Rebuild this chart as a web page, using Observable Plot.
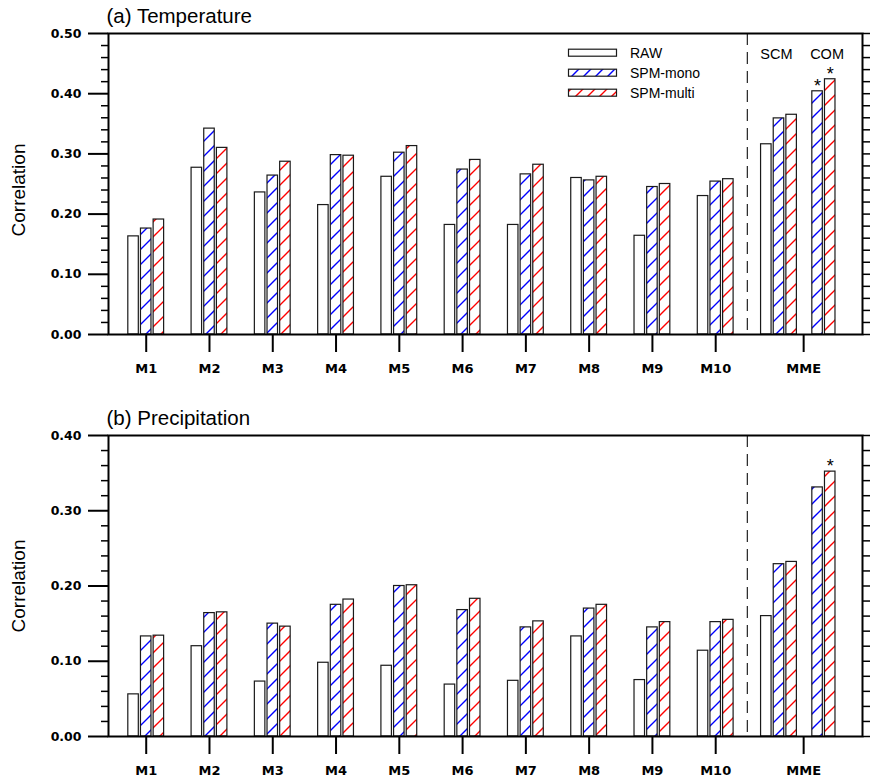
<!DOCTYPE html>
<html>
<head>
<meta charset="utf-8">
<script src="https://cdn.jsdelivr.net/npm/d3@7"></script>
<script src="https://cdn.jsdelivr.net/npm/@observablehq/plot@0.6"></script>
<style>
  html, body { margin: 0; padding: 0; background: #fff; }
  #wrap { position: relative; width: 871px; height: 781px; overflow: hidden; font-family: "Liberation Sans", Arial, sans-serif; }
  #wrap > svg, #wrap > .legend { position: absolute; left: 0; }
</style>
</head>
<body>
<div id="wrap"></div>
<script>
// ---------- data ----------
const models = ["M1", "M2", "M3", "M4", "M5", "M6", "M7", "M8", "M9", "M10"];
const seriesNames = ["RAW", "SPM-mono", "SPM-multi"];
const mmeGroupNames = ["SCM", "COM"];
const xTickLabels = ["M1", "M2", "M3", "M4", "M5", "M6", "M7", "M8", "M9", "M10", "MME"];

const tempRaw   = [0.163, 0.277, 0.236, 0.215, 0.262, 0.182, 0.182, 0.260, 0.164, 0.230];
const tempMono  = [0.176, 0.342, 0.264, 0.298, 0.302, 0.274, 0.266, 0.256, 0.245, 0.254];
const tempMulti = [0.191, 0.310, 0.287, 0.297, 0.313, 0.290, 0.282, 0.262, 0.250, 0.258];
const tempSCM   = [0.316, 0.359, 0.365];        // RAW, SPM-mono, SPM-multi
const tempCOM   = [0.404, 0.424];               // SPM-mono, SPM-multi
const tempCOMSig = [true, true];

const precRaw   = [0.056, 0.120, 0.073, 0.098, 0.094, 0.069, 0.074, 0.133, 0.075, 0.114];
const precMono  = [0.133, 0.164, 0.150, 0.175, 0.200, 0.168, 0.145, 0.170, 0.145, 0.152];
const precMulti = [0.134, 0.165, 0.146, 0.182, 0.201, 0.183, 0.153, 0.175, 0.152, 0.155];
const precSCM   = [0.160, 0.229, 0.232];
const precCOM   = [0.331, 0.352];
const precCOMSig = [false, true];

const tempYTicks = [0, 0.1, 0.2, 0.3, 0.4, 0.5];
const precYTicks = [0, 0.1, 0.2, 0.3, 0.4];

// ---------- layout ----------
const slot = 0.2, barW = 0.166;
const scmCenter = 11.0, comCenter = 11.71, mmeTick = 11.39;
const xDomain = [0.404, 12.32];
const xTickPos = [...models.map((m, i) => i + 1), mmeTick];
const divider = ((models.length + slot) + (scmCenter - slot)) / 2;
const groupLabelPos = [scmCenter - 0.04, comCenter + 0.05];
const FONT = "Liberation Sans, Arial, sans-serif";
const TICKFONT = "DejaVu Sans, sans-serif";

function buildRows(raw, mono, multi, scm, com, sig) {
  const rows = [];
  models.forEach((m, i) => {
    [raw[i], mono[i], multi[i]].forEach((v, s) => rows.push({pos: i + 1 + (s - 1) * slot, value: v, s, star: false}));
  });
  scm.forEach((v, s) => rows.push({pos: scmCenter + (s - 1) * slot, value: v, s, star: false}));
  com.forEach((v, k) => rows.push({pos: comCenter + (k - 0.5) * slot, value: v, s: k + 1, star: sig[k]}));
  return rows;
}

function addPatterns(svg, id, spacing) {
  const defs = d3.select(svg).insert("defs", ":first-child");
  [["blue", "#0000ff"], ["red", "#ff0000"]].forEach(([n, c]) => {
    const p = defs.append("pattern").attr("id", `${id}-${n}`)
      .attr("patternUnits", "userSpaceOnUse").attr("width", spacing).attr("height", spacing);
    p.append("rect").attr("width", spacing).attr("height", spacing).attr("fill", "white");
    p.append("path")
      .attr("d", `M-2,2L2,-2M0,${spacing}L${spacing},0M${spacing - 2},${spacing + 2}L${spacing + 2},${spacing - 2}`)
      .attr("stroke", c).attr("stroke-width", 1.4).attr("fill", "none");
  });
}

function panel({rows, yMax, yTicks, title, id, marginTop, marginBottom, showGroups, labelDy}) {
  const minor = d3.range(0, Math.round(yMax / 0.02) + 1).map(i => +(i * 0.02).toFixed(2));
  const minorOnly = minor.filter(v => !yTicks.some(t => Math.abs(t - v) < 1e-9));
  const barOpts = s => ({
    x1: d => d.pos - barW / 2, x2: d => d.pos + barW / 2, y1: 0, y2: "value",
    stroke: "#1a1a1a", strokeWidth: 1.2,
    fill: s === 0 ? "white" : s === 1 ? `url(#${id}-blue)` : `url(#${id}-red)`
  });
  const svg = Plot.plot({
    width: 871, height: 380,
    marginLeft: 108, marginRight: 9, marginTop, marginBottom,
    style: {fontFamily: FONT, fontSize: "14px", background: "white", color: "black", overflow: "visible"},
    x: {type: "linear", domain: xDomain, axis: null},
    y: {domain: [0, yMax], axis: null},
    marks: [
      Plot.rect(rows.filter(d => d.s === 0), barOpts(0)),
      Plot.rect(rows.filter(d => d.s === 1), barOpts(1)),
      Plot.rect(rows.filter(d => d.s === 2), barOpts(2)),
      Plot.ruleX([divider], {stroke: "#222", strokeWidth: 1.2, strokeDasharray: "12,7"}),
      Plot.frame({stroke: "black", strokeWidth: 2}),
      Plot.axisY({ticks: yTicks, tickSize: 20, tickPadding: 7, tickFormat: d3.format(".2f"),
        fontFamily: TICKFONT, fontWeight: "bold", fontSize: 12.5, strokeWidth: 2, label: null}),
      Plot.axisY({ticks: minorOnly, tickSize: 7, tickFormat: () => "", strokeWidth: 1.5, label: null}),
      Plot.axisY({anchor: "right", ticks: minor, tickSize: 7, tickFormat: () => "", strokeWidth: 1.5, label: null}),
      Plot.axisX({ticks: xTickPos, tickSize: 18, tickPadding: 11,
        tickFormat: d => xTickLabels[xTickPos.indexOf(d)],
        fontFamily: TICKFONT, fontWeight: "bold", fontSize: 13, strokeWidth: 2, label: null}),
      Plot.text([title], {text: d => d, frameAnchor: "top-left", textAnchor: "start", lineAnchor: "top",
        dx: -2, dy: -24.8, fontSize: 20.5, fontFamily: FONT}),
      Plot.text(["Correlation"], {text: d => d, frameAnchor: "left", textAnchor: "middle", lineAnchor: "middle",
        dx: -90, dy: labelDy, rotate: -90, fontSize: 19, fontFamily: FONT}),
      showGroups ? Plot.text(mmeGroupNames, {text: d => d, x: (d, i) => groupLabelPos[i],
        frameAnchor: "top", lineAnchor: "top", dy: 15.3, fontSize: 14.5, fontFamily: FONT}) : null,
      Plot.text(rows.filter(d => d.star), {x: "pos", y: "value", text: () => "*", dy: -5.4,
        fontSize: 18, fontFamily: FONT})
    ].filter(Boolean)
  });
  addPatterns(svg, id, 15);
  return svg;
}

const wrap = document.getElementById("wrap");

const svgA = panel({
  rows: buildRows(tempRaw, tempMono, tempMulti, tempSCM, tempCOM, tempCOMSig),
  yMax: 0.5, yTicks: tempYTicks, title: "(a) Temperature", id: "pa",
  marginTop: 33, marginBottom: 46, showGroups: true, labelDy: 6
});
svgA.style.top = "0px";
wrap.appendChild(svgA);

const svgB = panel({
  rows: buildRows(precRaw, precMono, precMulti, precSCM, precCOM, precCOMSig),
  yMax: 0.4, yTicks: precYTicks, title: "(b) Precipitation", id: "pb",
  marginTop: 34, marginBottom: 45, showGroups: false, labelDy: 0
});
svgB.style.top = "401px";
wrap.appendChild(svgB);

// ---------- legend (overlaid on panel a) ----------
const legend = d3.create("svg").attr("class", "legend")
  .attr("width", 150).attr("height", 66)
  .style("left", "560px").style("top", "40px").style("position", "absolute");
addPatterns(legend.node(), "lg", 12);
seriesNames.forEach((name, i) => {
  const cy = 12.7 + i * 20;
  legend.append("rect").attr("x", 8.5).attr("y", cy - 3.5).attr("width", 48).attr("height", 7)
    .attr("fill", i === 0 ? "white" : i === 1 ? "url(#lg-blue)" : "url(#lg-red)")
    .attr("stroke", "#1a1a1a").attr("stroke-width", 1.2);
  legend.append("text").attr("x", 70).attr("y", cy + 5.3)
    .attr("font-family", FONT).attr("font-size", 14).attr("fill", "black").text(name);
});
wrap.appendChild(legend.node());
</script>
</body>
</html>
